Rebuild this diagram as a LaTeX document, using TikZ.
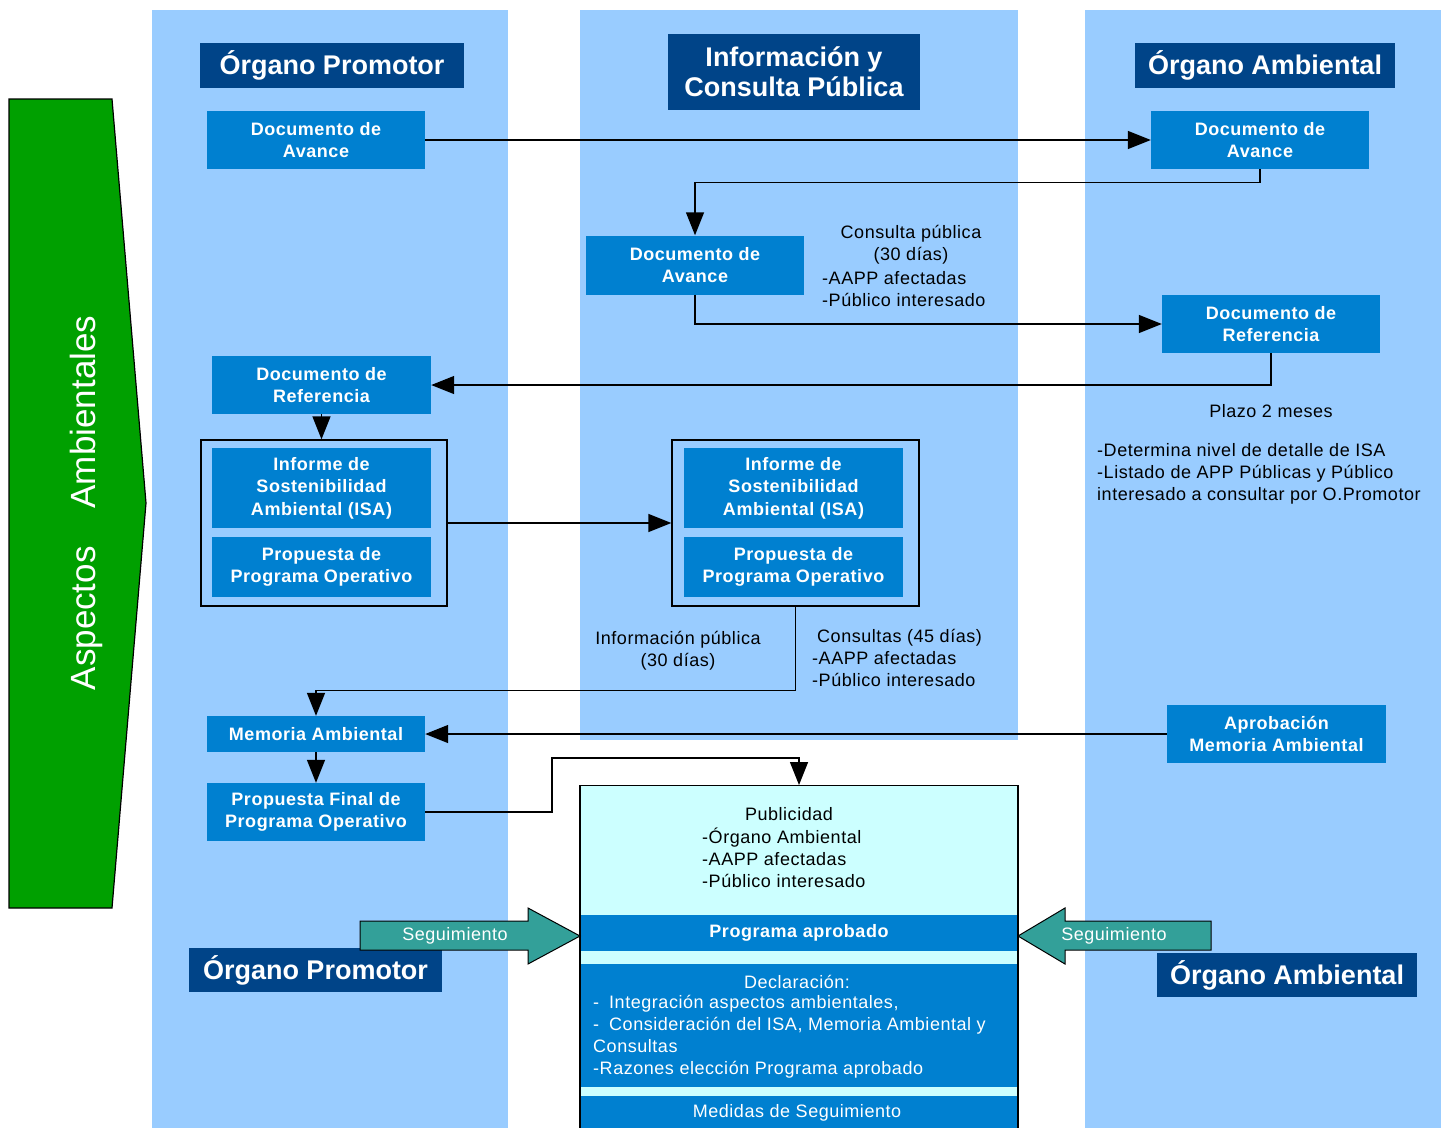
\documentclass[tikz,border=0pt]{standalone}
\usepackage{fontspec}
\setmainfont{Liberation Sans}[LetterSpace=3]
\newfontfamily\hdrfamily{Liberation Sans}
\usetikzlibrary{arrows.meta,calc}
\definecolor{colbg}{RGB}{153,204,255}
\definecolor{boxblue}{RGB}{0,128,208}
\definecolor{hdrblue}{RGB}{0,68,136}
\definecolor{segteal}{RGB}{51,160,153}
\definecolor{cyanbg}{RGB}{204,255,255}
\definecolor{greenarr}{RGB}{0,160,0}
\newcommand\boxfnt{\fontsize{18}{22.5}\selectfont\bfseries}
\newcommand\hdrfnt{\hdrfamily\fontsize{27}{30}\selectfont\bfseries}
\newcommand\txtfnt{\fontsize{18}{22}\selectfont}
\begin{document}
\begin{tikzpicture}[x=1pt,y=-1pt,
  box/.style={fill=boxblue, text=white, font=\boxfnt, align=center, inner sep=0pt},
  hdr/.style={fill=hdrblue, text=white, font=\hdrfnt, align=center, inner sep=0pt},
  txt/.style={font=\txtfnt, inner sep=0pt},
  grp/.style={draw=black, line width=1.4pt, inner sep=0pt},
  arr/.style={line width=1.4pt, -{Triangle[length=23pt,width=18pt]}},
  segarrow/.style={fill=segteal, draw=black, line width=1pt}]
\useasboundingbox (0,0) rectangle (1447,1127);
% columns
\fill[colbg] (152,10) rectangle (508,1140);
\fill[colbg] (580,10) rectangle (1018,740);
\fill[colbg] (1085,10) rectangle (1441,1140);
% green arrow
\draw[fill=greenarr, line width=1.2pt] (9,99) -- (112,99) -- (146,503) -- (112,908) -- (9,908) -- cycle;
\node[rotate=90, text=white, font=\hdrfamily\fontsize{35}{40}\selectfont, inner sep=0pt] (asp) at (86,503) {Aspectos\hspace{38pt}Ambientales};
% headers
\node[hdr, minimum width=264pt, minimum height=45pt] (hdrL) at (332,65.5) {Órgano Promotor};
\node[hdr, minimum width=252pt, minimum height=76pt] (hdrM) at (794,72) {Información y\\Consulta Pública};
\node[hdr, minimum width=260pt, minimum height=45pt] (hdrR) at (1265,65.5) {Órgano Ambiental};
\node[hdr, minimum width=253pt, minimum height=44pt] (hdrLb) at (315.5,970) {Órgano Promotor};
\node[hdr, minimum width=260pt, minimum height=44pt] (hdrRb) at (1287,975) {Órgano Ambiental};
% boxes
\node[box, minimum width=218pt, minimum height=58pt] (da1) at (316,140) {Documento de\\Avance};
\node[box, minimum width=218pt, minimum height=58pt] (da2) at (1260,140) {Documento de\\Avance};
\node[box, minimum width=218pt, minimum height=59pt] (da3) at (695,265) {Documento de\\Avance};
\node[box, minimum width=218pt, minimum height=58pt] (drR) at (1271,324) {Documento de\\Referencia};
\node[box, minimum width=219pt, minimum height=58pt] (drL) at (321.5,385) {Documento de\\Referencia};
% groups
\node[grp, minimum width=246pt, minimum height=166pt] (grpL) at (324,523) {};
\node[box, minimum width=219pt, minimum height=80pt] (isaL) at (321.5,488) {Informe de\\Sostenibilidad\\Ambiental (ISA)};
\node[box, minimum width=219pt, minimum height=60pt] (ppL) at (321.5,567) {Propuesta de\\Programa Operativo};
\node[grp, minimum width=247pt, minimum height=166pt] (grpM) at (795.5,523) {};
\node[box, minimum width=219pt, minimum height=80pt] (isaM) at (793.5,488) {Informe de\\Sostenibilidad\\Ambiental (ISA)};
\node[box, minimum width=219pt, minimum height=60pt] (ppM) at (793.5,567) {Propuesta de\\Programa Operativo};
\node[box, minimum width=218pt, minimum height=36pt] (mem) at (316,734) {Memoria Ambiental};
\node[box, minimum width=218pt, minimum height=58pt] (pf) at (316,812) {Propuesta Final de\\Programa Operativo};
\node[box, minimum width=219pt, minimum height=58pt] (apr) at (1276.5,734) {Aprobación\\Memoria Ambiental};
% free texts
\node[txt, align=center] (tcons) at (911,245) {Consulta pública\\(30 días)};
\node[txt, align=left, anchor=west] (tcons2) at (822,289) {-AAPP afectadas\\-Público interesado};
\node[txt, align=center] (tplazo) at (1271,411) {Plazo 2 meses};
\node[txt, align=left, anchor=west] (tdet) at (1097,474) {-Determina nivel de detalle de ISA\\-Listado de APP Públicas y Público\\interesado a consultar por O.Promotor};
\node[txt, align=center] (tinfo) at (678,651) {Información pública\\(30 días)};
\node[txt, align=left, anchor=west] (tcon45) at (812,658) {\hspace{5pt}Consultas (45 días)\\-AAPP afectadas\\-Público interesado};
% big box
\node[draw=black, fill=cyanbg, line width=1.4pt, minimum width=438pt, minimum height=355pt, inner sep=0pt, anchor=north] (big) at (799,785) {};
\node[txt, align=center] (tpub) at (789,814) {Publicidad};
\node[txt, align=left, anchor=west] (tpub2) at (702,858) {-Órgano Ambiental\\-AAPP afectadas\\-Público interesado};
\node[box, minimum width=436pt, minimum height=36pt] (prog) at (799,933) {Programa aprobado};
\node[fill=boxblue, minimum width=436pt, minimum height=123pt, inner sep=0pt] (decl) at (799,1025.5) {};
\node[txt, text=white, align=center] (tdecl) at (797,982) {Declaración:};
\node[txt, text=white, align=left, anchor=west] (tdecl2) at (593,1037) {-\hspace{10pt}Integración aspectos ambientales,\\-\hspace{10pt}Consideración del ISA, Memoria Ambiental y\\Consultas\\-Razones elección Programa aprobado};
\node[fill=boxblue, minimum width=436pt, minimum height=40pt, inner sep=0pt, anchor=north] (med) at (799,1096) {};
\node[txt, text=white] (tmed) at (797,1113) {Medidas de Seguimiento};
% connectors
\coordinate (k1) at (552,758);
\draw[arr] (da1.east) -- (da2.west);
\draw[arr] (da2.south) -- ++(0,13) -| (da3.north);
\draw[arr] (da3.south) |- (drR.west);
\draw[arr] (drR.south) |- (drL.east);
\draw[arr] (drL.south) -- (drL.south |- grpL.north);
\draw[arr] (grpL.east) -- (grpM.west);
\draw[arr] (grpM.south) -- ++(0,84) -| (mem.north);
\draw[arr] (apr.west) -- (mem.east);
\draw[arr] (mem.south) -- (pf.north);
\draw[arr] (pf.east) -| (k1) -| (big.north);
% seguimiento arrows
\draw[segarrow] (360,921) -- (528,921) -- (528,908) -- (580,936) -- (528,964) -- (528,950) -- (360,950) -- cycle;
\node[txt, text=white] (segL) at (455,936) {Seguimiento};
\draw[segarrow] (1211,921) -- (1065,921) -- (1065,908) -- (1018,936) -- (1065,964) -- (1065,950) -- (1211,950) -- cycle;
\node[txt, text=white] (segR) at (1114,936) {Seguimiento};
\end{tikzpicture}
\end{document}
